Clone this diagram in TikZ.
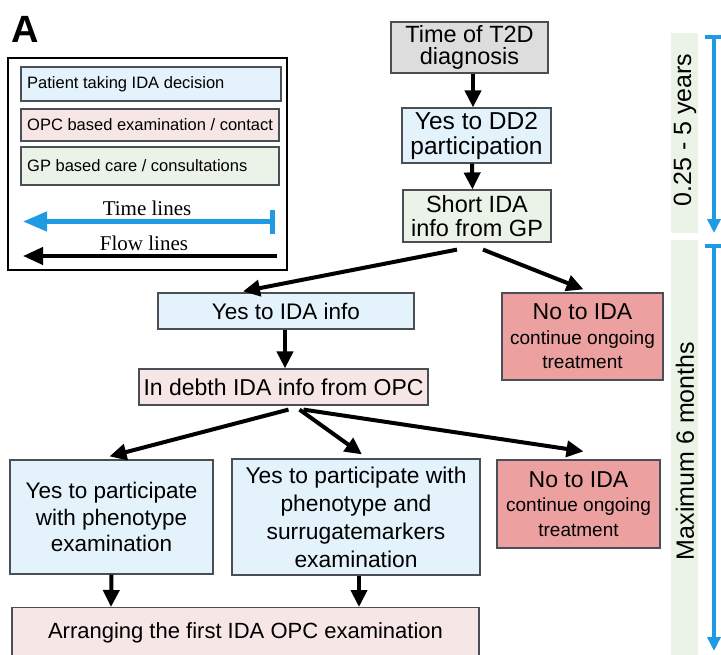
\documentclass[tikz,border=0pt]{standalone}
\usepackage{fontspec}
\setmainfont{Liberation Sans}
\newfontfamily\seriffont{Liberation Serif}
\usetikzlibrary{arrows.meta,calc}
\definecolor{cblue}{HTML}{E3F2FB}
\definecolor{cpink}{HTML}{F6E6E5}
\definecolor{cgreen}{HTML}{EBF3E8}
\definecolor{cgray}{HTML}{DDDDDD}
\definecolor{csalmon}{HTML}{EDA0A0}
\definecolor{tblue}{HTML}{1F9BE6}
\definecolor{cstrip}{HTML}{EBF3E7}
\definecolor{cedge}{HTML}{4A4F55}
\begin{document}
\begin{tikzpicture}[x=1pt,y=-1pt,
  box/.style={draw=cedge, line width=1.2pt, rectangle, inner sep=0pt, align=center},
  legbox/.style={draw=cedge, line width=1.2pt, rectangle, inner sep=0pt},
  legtext/.style={anchor=west, inner sep=0pt, font=\fontsize{16.5}{18}\selectfont},
  flow/.style={-{Triangle[length=17pt,width=16pt]}, line width=4pt},
  legflow/.style={-{Triangle[length=20pt,width=17pt]}, line width=4pt},
  timeline/.style={{Bar[width=24pt,line width=5pt]}-{Triangle[length=24pt,width=19pt]}, line width=4.5pt, draw=tblue},
  vtime/.style={{Bar[width=18pt,line width=3.5pt]}-{Triangle[length=14pt,width=13pt]}, line width=3.5pt, draw=tblue},
  strip/.style={fill=cstrip, draw=none},
  sidelabel/.style={rotate=90, inner sep=0pt, font=\fontsize{25}{26}\selectfont}
]
\useasboundingbox (0,0) rectangle (721,654);

% panel letter
\node[anchor=base west, inner sep=0pt, font=\fontsize{38}{38}\bfseries\selectfont] (letter) at (11,42) {A};

% legend
\node[draw=black, line width=1.3pt, minimum width=279pt, minimum height=212pt, inner sep=0pt] (legend) at (147.5,164) {};
\node[legbox, fill=cblue, minimum width=260pt, minimum height=34pt] (lb) at (151,84) {};
\node[legtext] (lbt) at (27,84) {Patient taking IDA decision};
\node[legbox, fill=cpink, minimum width=258pt, minimum height=32pt] (lp) at (150,125) {};
\node[legtext] (lpt) at (27,125) {OPC based examination / contact};
\node[legbox, fill=cgreen, minimum width=258pt, minimum height=38pt] (lg) at (150,166) {};
\node[legtext] (lgt) at (27,166) {GP based care / consultations};
\node[font=\seriffont\fontsize{21}{22}\selectfont, inner sep=0pt] (tl) at (147,208) {Time lines};
\node[font=\seriffont\fontsize{21}{22}\selectfont, inner sep=0pt] (fl) at (144,243) {Flow lines};
\coordinate (tla) at (275,221.5);
\coordinate (tlb) at (23,221.5);
\coordinate (fla) at (277,256);
\coordinate (flb) at (23,256);
\draw[timeline] (tla) -- (tlb);
\draw[legflow] (fla) -- (flb);

% right time strips
\node[strip, minimum width=27pt, minimum height=200pt, inner sep=0pt] (s1) at (684.5,133) {};
\node[strip, minimum width=27pt, minimum height=416pt, inner sep=0pt] (s2) at (684.5,448) {};
\node[sidelabel] (s1t) at (685,130) {0.25 - 5 years};
\node[sidelabel] (s2t) at (685,451) {Maximum 6 months};
\coordinate (v1a) at (714,35);
\coordinate (v1b) at (714,233);
\coordinate (v2a) at (714,244);
\coordinate (v2b) at (714,651);
\draw[vtime] (v1a) -- (v1b);
\draw[vtime] (v2a) -- (v2b);

% main boxes
\node[box, fill=cgray, minimum width=157pt, minimum height=51pt, font=\fontsize{23.5}{21.5}\selectfont] (t2d) at (469.5,47.5)
  {Time of T2D\\diagnosis};
\node[box, fill=cblue, minimum width=149pt, minimum height=55pt, font=\fontsize{24.5}{25}\selectfont] (dd2) at (476.5,135.5)
  {Yes to DD2\\participation};
\node[box, fill=cgreen, minimum width=148pt, minimum height=52pt, font=\fontsize{23.5}{23.5}\selectfont] (short) at (477,216)
  {Short IDA\\info from GP};
\node[box, fill=cblue, minimum width=256pt, minimum height=36pt, font=\fontsize{22.5}{24}\selectfont] (yesinfo) at (286,311)
  {Yes to IDA info};
\node[box, fill=csalmon, minimum width=161pt, minimum height=87pt, font=\fontsize{19}{24.5}\selectfont] (no1) at (582.5,336.5)
  {{\fontsize{23}{24}\selectfont No to IDA}\\continue ongoing\\treatment};
\node[box, fill=cpink, minimum width=289pt, minimum height=36pt, font=\fontsize{23}{24}\selectfont] (indepth) at (283.5,387)
  {In debth IDA info from OPC};
\node[box, fill=cblue, minimum width=203pt, minimum height=114pt, font=\fontsize{22.5}{26.5}\selectfont] (left) at (111.5,517)
  {Yes to participate\\with phenotype\\examination};
\node[box, fill=cblue, minimum width=248pt, minimum height=116pt, font=\fontsize{22.8}{28}\selectfont] (mid) at (356,517)
  {Yes to participate with\\phenotype and\\surrugatemarkers\\examination};
\node[box, fill=csalmon, minimum width=163pt, minimum height=88pt, font=\fontsize{19}{24.5}\selectfont] (no2) at (578.5,504)
  {{\fontsize{23}{24}\selectfont No to IDA}\\continue ongoing\\treatment};
\node[box, fill=cpink, minimum width=467pt, minimum height=55pt, anchor=north] (arr) at (245.5,607) {};
\node[inner sep=0pt, font=\fontsize{22}{24}\selectfont] (arrt) at (245.5,633) {Arranging the first IDA OPC examination};

% flow arrows
\draw[flow] ([xshift=3.5pt]t2d.south) -- ([xshift=-3.5pt]dd2.north);
\draw[flow] ([xshift=-4.5pt]dd2.south) -- ([xshift=-4.5pt]short.north);
\draw[flow] ([xshift=-20pt,yshift=-7pt]short.south) -- ([xshift=-43pt,yshift=1pt]yesinfo.north);
\draw[flow] ([xshift=6pt,yshift=-7pt]short.south) -- ([xshift=1pt,yshift=3pt]no1.north);
\draw[flow] ([xshift=-1pt]yesinfo.south) -- ([xshift=1.5pt]indepth.north);
\draw[flow] ([xshift=5pt,yshift=-4pt]indepth.south) -- ([xshift=-2pt,yshift=3pt]left.north);
\draw[flow] ([xshift=16pt,yshift=-4pt]indepth.south) -- ([xshift=6pt,yshift=4pt]mid.north);
\draw[flow] ([xshift=20pt,yshift=-4pt]indepth.south) -- ([xshift=5pt,yshift=8pt]no2.north);
\draw[flow] (left.south) -- ([xshift=-0.5pt]left.south |- arr.north);
\draw[flow] ([xshift=3pt]mid.south) -- ([xshift=3pt]mid.south |- arr.north);
\end{tikzpicture}
\end{document}
